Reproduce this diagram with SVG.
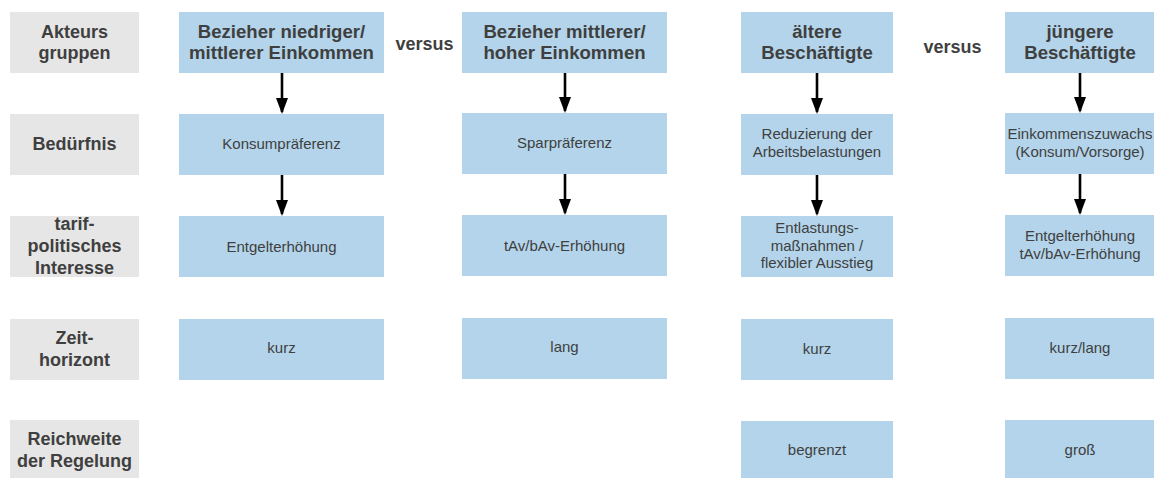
<svg xmlns="http://www.w3.org/2000/svg" width="1154" height="478" viewBox="0 0 1154 478">
<defs>
<style>
.lbl{fill:#e6e6e6}
.box{fill:#b3d4ea}
.h{font-family:"Liberation Sans",Arial,sans-serif;font-weight:bold;font-size:18px;fill:#3f3f3f;text-anchor:middle}
.hb{font-size:18.6px}
.t{font-family:"Liberation Sans",Arial,sans-serif;font-size:15px;fill:#3f3f3f;text-anchor:middle}
.arr{stroke:#000;stroke-width:2.6;fill:none;marker-end:url(#ah)}
</style>
<marker id="ah" viewBox="0 0 16 12" refX="14" refY="6" markerWidth="16" markerHeight="12" markerUnits="userSpaceOnUse" orient="auto">
<path d="M0,0 L16,6 L0,12 Z" fill="#000"/>
</marker>
</defs>
<rect width="1154" height="478" fill="#fff"/>

<g id="labels">
<g id="lbl-akteure"><rect class="lbl" x="10" y="12" width="129" height="61"/><text class="h" x="74.5" y="38">Akteurs</text><text class="h" x="74.5" y="59">gruppen</text></g>
<g id="lbl-beduerfnis"><rect class="lbl" x="10" y="114" width="129" height="61"/><text class="h" x="74.5" y="150">Bedürfnis</text></g>
<g id="lbl-interesse"><rect class="lbl" x="10" y="216" width="129" height="61"/><text class="h" x="74.5" y="230">tarif-</text><text class="h" x="74.5" y="252">politisches</text><text class="h" x="74.5" y="274">Interesse</text></g>
<g id="lbl-zeit"><rect class="lbl" x="10" y="319" width="129" height="61"/><text class="h" x="74.5" y="344">Zeit-</text><text class="h" x="74.5" y="366">horizont</text></g>
<g id="lbl-reichweite"><rect class="lbl" x="10" y="420" width="129" height="60"/><text class="h" x="74.5" y="445">Reichweite</text><text class="h" x="74.5" y="467">der Regelung</text></g>
</g>

<g id="versus">
<text class="h" x="424.5" y="50">versus</text>
<text class="h" x="952.5" y="53">versus</text>
</g>

<g id="col1">
<g id="c1r1"><rect class="box" x="179" y="12" width="205" height="61"/><text class="h hb" x="281.5" y="38">Bezieher niedriger/</text><text class="h hb" x="281.5" y="59">mittlerer Einkommen</text></g>
<g id="c1r2"><rect class="box" x="179" y="114" width="205" height="61"/><text class="t" x="281.5" y="149">Konsumpräferenz</text></g>
<g id="c1r3"><rect class="box" x="179" y="216" width="205" height="61"/><text class="t" x="281.5" y="252">Entgelterhöhung</text></g>
<g id="c1r4"><rect class="box" x="179" y="319" width="205" height="61"/><text class="t" x="281.5" y="353">kurz</text></g>
</g>

<g id="col2">
<g id="c2r1"><rect class="box" x="462" y="12" width="205" height="61"/><text class="h hb" x="564.5" y="38">Bezieher mittlerer/</text><text class="h hb" x="564.5" y="59">hoher Einkommen</text></g>
<g id="c2r2"><rect class="box" x="462" y="113" width="205" height="61"/><text class="t" x="564.5" y="148">Sparpräferenz</text></g>
<g id="c2r3"><rect class="box" x="462" y="215" width="205" height="61"/><text class="t" x="564.5" y="251">tAv/bAv-Erhöhung</text></g>
<g id="c2r4"><rect class="box" x="462" y="318" width="205" height="61"/><text class="t" x="564.5" y="352">lang</text></g>
</g>

<g id="col3">
<g id="c3r1"><rect class="box" x="741" y="12" width="152" height="61"/><text class="h hb" x="817" y="38">ältere</text><text class="h hb" x="817" y="59">Beschäftigte</text></g>
<g id="c3r2"><rect class="box" x="741" y="114" width="152" height="61"/><text class="t" x="817" y="139">Reduzierung der</text><text class="t" x="817" y="157">Arbeitsbelastungen</text></g>
<g id="c3r3"><rect class="box" x="741" y="216" width="152" height="61"/><text class="t" x="817" y="233">Entlastungs-</text><text class="t" x="817" y="251">maßnahmen /</text><text class="t" x="817" y="268">flexibler Ausstieg</text></g>
<g id="c3r4"><rect class="box" x="741" y="319" width="152" height="61"/><text class="t" x="817" y="354">kurz</text></g>
<g id="c3r5"><rect class="box" x="741" y="421" width="152" height="59"/><text class="t" x="817" y="455">begrenzt</text></g>
</g>

<g id="col4">
<g id="c4r1"><rect class="box" x="1005" y="12" width="152" height="61"/><text class="h hb" x="1080" y="38">jüngere</text><text class="h hb" x="1080" y="59">Beschäftigte</text></g>
<g id="c4r2"><rect class="box" x="1005" y="113" width="152" height="61"/><text class="t" x="1080" y="139">Einkommenszuwachs</text><text class="t" x="1080" y="157">(Konsum/Vorsorge)</text></g>
<g id="c4r3"><rect class="box" x="1005" y="215" width="152" height="61"/><text class="t" x="1080" y="241">Entgelterhöhung</text><text class="t" x="1080" y="259">tAv/bAv-Erhöhung</text></g>
<g id="c4r4"><rect class="box" x="1005" y="318" width="152" height="61"/><text class="t" x="1080" y="353">kurz/lang</text></g>
<g id="c4r5"><rect class="box" x="1005" y="420" width="152" height="60"/><text class="t" x="1080" y="455">groß</text></g>
</g>

<g id="connectors">
<line class="arr" x1="282" y1="73" x2="282" y2="112"/>
<line class="arr" x1="282" y1="175" x2="282" y2="214"/>
<line class="arr" x1="565" y1="73" x2="565" y2="111"/>
<line class="arr" x1="565" y1="174" x2="565" y2="213"/>
<line class="arr" x1="817" y1="73" x2="817" y2="112"/>
<line class="arr" x1="817" y1="175" x2="817" y2="214"/>
<line class="arr" x1="1080" y1="73" x2="1080" y2="111"/>
<line class="arr" x1="1080" y1="174" x2="1080" y2="213"/>
</g>
</svg>
